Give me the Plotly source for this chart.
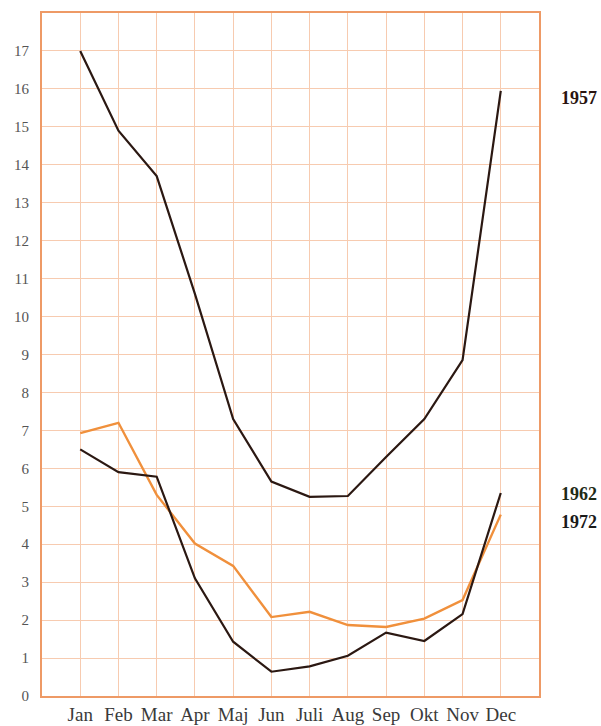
import plotly.graph_objects as go

# Monthly values for three years
months = ["Jan", "Feb", "Mar", "Apr", "Maj", "Jun", "Juli", "Aug", "Sep", "Okt", "Nov", "Dec"]
month_pos = list(range(1, 13))
y1957 = [17.0, 14.9, 13.7, 10.6, 7.3, 5.65, 5.25, 5.27, 6.3, 7.3, 8.85, 15.95]
y1962 = [6.5, 5.9, 5.78, 3.1, 1.43, 0.64, 0.78, 1.06, 1.67, 1.45, 2.16, 5.35]
y1972 = [6.93, 7.2, 5.3, 4.02, 3.43, 2.08, 2.22, 1.87, 1.82, 2.04, 2.53, 4.78]

series_labels = ["1957", "1962", "1972"]
label_y = [15.76, 5.33, 4.58]
label_colors = ["#2a1410", "#1e2a16", "#1a1a1a"]

dark = "#2b1812"
orange = "#f0903c"
grid_col = "#f7cbb0"
frame_col = "#ee9a66"
serif = "Liberation Serif, DejaVu Serif, serif"

fig = go.Figure()
fig.add_trace(go.Scatter(x=month_pos, y=y1957, mode="lines",
                         line=dict(color=dark, width=2.2), showlegend=False))
fig.add_trace(go.Scatter(x=month_pos, y=y1972, mode="lines",
                         line=dict(color=orange, width=2.4), showlegend=False))
fig.add_trace(go.Scatter(x=month_pos, y=y1962, mode="lines",
                         line=dict(color=dark, width=2.2), showlegend=False))

for text, yv, col in zip(series_labels, label_y, label_colors):
    fig.add_annotation(x=1.12, xref="paper", y=yv, yref="y", text=f"<b>{text}</b>",
                       showarrow=False, xanchor="right", yanchor="middle",
                       font=dict(family=serif, size=18, color=col))

fig.update_layout(
    width=601, height=726,
    margin=dict(l=42, r=62, t=13, b=30),
    paper_bgcolor="white", plot_bgcolor="white",
    xaxis=dict(range=[0, 13], tickvals=list(range(0, 14)),
               ticktext=[""] + months + [""],
               showgrid=True, gridcolor=grid_col, gridwidth=1.2,
               showline=True, linecolor=frame_col, linewidth=2, mirror=True,
               zeroline=False, ticks="", ticklabelstandoff=0, automargin=False,
               tickfont=dict(family=serif, size=19, color="#3a3a3a")),
    yaxis=dict(range=[0, 18], tickvals=list(range(0, 18)),
               ticktext=[str(v) for v in range(0, 18)],
               showgrid=True, gridcolor=grid_col, gridwidth=1.2,
               showline=True, linecolor=frame_col, linewidth=2, mirror=True,
               zeroline=False, ticks="", ticklabelstandoff=8, automargin=False,
               tickfont=dict(family=serif, size=15, color="#555555")),
)

fig.write_html("out.html")
